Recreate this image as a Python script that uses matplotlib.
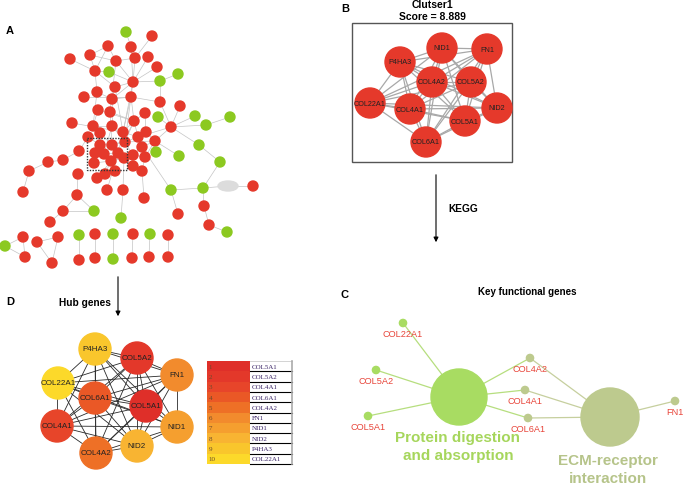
import itertools
import matplotlib.pyplot as plt
from matplotlib.patches import Circle, Ellipse, Rectangle

plt.rcParams['font.family'] = ['Liberation Sans', 'DejaVu Sans']

# ---- panel A: PPI network (layout in pixel space) ----
a_nodes = [
    (126, 33, 'g'), (152, 37, 'r'), (108, 47, 'r'), (131, 48, 'r'), (90, 56, 'r'),
    (70, 60, 'r'), (116, 62, 'r'), (135, 59, 'r'), (148, 58, 'r'), (157, 68, 'r'),
    (95, 72, 'r'), (109, 73, 'g'), (178, 75, 'g'), (160, 82, 'g'), (133, 83, 'r'),
    (115, 88, 'r'), (97, 93, 'r'), (84, 98, 'r'), (112, 100, 'r'), (131, 98, 'r'),
    (160, 103, 'r'), (180, 107, 'r'), (98, 111, 'r'), (110, 113, 'r'), (145, 114, 'r'),
    (195, 117, 'g'), (230, 118, 'g'), (158, 118, 'g'), (72, 124, 'r'), (134, 122, 'r'),
    (171, 128, 'r'), (206, 126, 'g'), (93, 127, 'r'), (112, 127, 'r'), (123, 133, 'r'),
    (100, 134, 'r'), (88, 138, 'r'), (138, 138, 'r'), (146, 133, 'r'), (100, 146, 'r'),
    (112, 146, 'r'), (125, 143, 'r'), (155, 142, 'r'), (142, 148, 'r'), (199, 146, 'g'),
    (79, 152, 'r'), (95, 154, 'r'), (104, 155, 'r'), (118, 154, 'r'), (133, 156, 'r'),
    (145, 158, 'r'), (156, 153, 'g'), (179, 157, 'g'), (63, 161, 'r'), (48, 163, 'r'),
    (94, 164, 'r'), (111, 162, 'r'), (124, 159, 'r'), (133, 167, 'r'), (115, 172, 'r'),
    (142, 172, 'r'), (220, 163, 'g'), (29, 172, 'r'), (78, 175, 'r'), (105, 175, 'r'),
    (97, 179, 'r'), (107, 191, 'r'), (123, 191, 'r'), (171, 191, 'g'), (203, 189, 'g'),
    (228, 187, 'x'), (253, 187, 'r'), (23, 193, 'r'), (77, 196, 'r'), (144, 199, 'r'),
    (204, 207, 'r'), (63, 212, 'r'), (94, 212, 'g'), (178, 215, 'r'), (121, 219, 'g'),
    (50, 223, 'r'), (209, 226, 'r'), (227, 233, 'g'), (5, 247, 'g'), (23, 238, 'r'),
    (25, 258, 'r'), (37, 243, 'r'), (58, 238, 'r'), (52, 264, 'r'), (79, 236, 'g'),
    (79, 261, 'r'), (95, 235, 'r'), (95, 259, 'r'), (113, 235, 'g'), (113, 260, 'g'),
    (133, 235, 'r'), (132, 259, 'r'), (150, 235, 'g'), (149, 258, 'r'), (168, 236, 'r'),
    (168, 258, 'r'),
]
a_edges = [
    (0, 3), (1, 7), (2, 4), (2, 6), (2, 10), (4, 6), (4, 10), (5, 10), (6, 7), (6, 14),
    (3, 7), (7, 14), (8, 14), (9, 14), (10, 11), (10, 16), (10, 15), (11, 14), (12, 13),
    (13, 14), (13, 20), (14, 15), (14, 19), (14, 18), (15, 18), (16, 18), (17, 19),
    (18, 19), (19, 20), (19, 29), (20, 30), (21, 30), (25, 30), (26, 31), (31, 30),
    (27, 30), (24, 29), (22, 29), (23, 29), (28, 34), (29, 34), (29, 37), (30, 37),
    (30, 42), (30, 44), (44, 61), (61, 69), (69, 70), (70, 71), (68, 69), (68, 43),
    (68, 78), (69, 75), (75, 81), (81, 82), (42, 52), (38, 37), (32, 33), (33, 34),
    (35, 36), (34, 37), (39, 41), (40, 41), (41, 37), (41, 42), (43, 42), (36, 45),
    (45, 53), (53, 54), (54, 62), (62, 72), (46, 47), (47, 48), (48, 49), (49, 50),
    (55, 56), (56, 57), (57, 58), (59, 56), (60, 50), (60, 74), (64, 56), (65, 48),
    (66, 48), (67, 57), (67, 79), (63, 73), (73, 76), (76, 77), (73, 77), (76, 80),
    (23, 40), (22, 32), (18, 33), (19, 34), (16, 32), (6, 23), (3, 14), (15, 34),
    (24, 38), (34, 41), (35, 40), (39, 46), (40, 48), (41, 49), (37, 43), (38, 42),
    (29, 41), (29, 48), (19, 41), (14, 34), (33, 47), (32, 39), (36, 39), (37, 50),
    (43, 49), (42, 50), (57, 49), (47, 56), (46, 55), (40, 47), (34, 48), (33, 41),
    (83, 84), (83, 85), (84, 85), (86, 87), (86, 88), (87, 88), (89, 90), (91, 92),
    (93, 94), (95, 96), (97, 98), (99, 100),
]
a_colors = {'r': '#e5392b', 'g': '#8cc920', 'x': '#dcdcdc'}

# ---- panel B: cluster 1 ----
b_title = 'Clutser1'
b_score = 8.889
b_genes = ['NID1', 'FN1', 'P4HA3', 'COL4A2', 'COL5A2', 'COL22A1', 'COL4A1',
           'NID2', 'COL5A1', 'COL6A1']
b_pos = [(442, 49), (487, 50), (400, 63), (432, 83), (471, 83), (370, 104),
         (410, 110), (497, 109), (465, 122), (426, 143)]

# ---- panel C: KEGG enrichment ----
c_terms = ['Protein digestion\nand absorption', 'ECM-receptor\ninteraction']
c_term_pos = [(459, 398), (610, 418)]
c_genes = ['COL22A1', 'COL5A2', 'COL5A1', 'COL4A2', 'COL4A1', 'COL6A1', 'FN1']
c_gene_pos = [(403, 324), (376, 371), (368, 417), (530, 359), (525, 391),
              (528, 419), (675, 402)]
c_links = {0: ['COL22A1', 'COL5A2', 'COL5A1', 'COL4A2', 'COL4A1', 'COL6A1'],
           1: ['COL4A2', 'COL4A1', 'COL6A1', 'FN1']}

# ---- panel D: hub genes ranked ----
hub_rank = ['COL5A1', 'COL5A2', 'COL4A1', 'COL6A1', 'COL4A2', 'FN1', 'NID1',
            'NID2', 'P4HA3', 'COL22A1']
hub_colors = ['#df2f29', '#e3382a', '#e7452a', '#ea5826', '#ee7026', '#f28b2d',
              '#f59f2f', '#f8b432', '#f9c62c', '#fcd92a']
d_pos = {'P4HA3': (95, 350), 'COL5A2': (137, 359), 'FN1': (177, 376),
         'COL22A1': (58, 384), 'COL6A1': (95, 399), 'COL5A1': (146, 407),
         'COL4A1': (57, 427), 'NID1': (177, 428), 'NID2': (137, 447),
         'COL4A2': (96, 454)}

fig = plt.figure(figsize=(6.85, 4.85), dpi=100)
ax = fig.add_axes([0, 0, 1, 1])
ax.set_xlim(0, 685)
ax.set_ylim(485, 0)
ax.axis('off')

# A
for i, j in a_edges:
    ax.plot([a_nodes[i][0], a_nodes[j][0]], [a_nodes[i][1], a_nodes[j][1]],
            color='#c4c4c4', lw=0.5, zorder=1)
for x, y, k in a_nodes:
    if k == 'x':
        ax.add_patch(Ellipse((x, y), 20, 10, color=a_colors[k], zorder=2))
    else:
        ax.add_patch(Circle((x, y), 5, color=a_colors[k], zorder=2))
ax.add_patch(Rectangle((87, 139), 40, 32, fill=False, ls=(0, (1, 1)),
                       ec='#333333', lw=1, zorder=3))
ax.text(6, 31, 'A', fontsize=8, fontweight='bold', va='center')

# A -> D arrow
ax.annotate('', xy=(118, 320), xytext=(118, 275),
            arrowprops=dict(arrowstyle='-|>', color='black', lw=0.8,
                            mutation_scale=7))
ax.text(111, 303, 'Hub genes', fontsize=7.3, fontweight='bold', ha='right', va='center')

# B
ax.text(341, 9, 'B', fontsize=8, fontweight='bold', va='center')
ax.text(432, 5, b_title, fontsize=7.5, fontweight='bold', ha='center', va='center')
ax.text(432, 17, f'Score = {b_score}', fontsize=7.5, fontweight='bold',
        ha='center', va='center')
ax.add_patch(Rectangle((352, 24), 160, 139, fill=False, ec='#555555', lw=1))
for i, j in itertools.combinations(range(len(b_genes)), 2):
    ax.plot([b_pos[i][0], b_pos[j][0]], [b_pos[i][1], b_pos[j][1]],
            color='#a8a8a8', lw=0.9, zorder=1)
for g, (x, y) in zip(b_genes, b_pos):
    ax.add_patch(Circle((x, y), 15, color='#e5392b', zorder=2))
    ax.text(x, y, g, fontsize=5.2, ha='center', va='center', color='#222222', zorder=3)

# B -> C arrow
ax.annotate('', xy=(436, 246), xytext=(436, 173),
            arrowprops=dict(arrowstyle='-|>', color='black', lw=0.8,
                            mutation_scale=7))
ax.text(448, 209, 'KEGG', fontsize=7.3, fontweight='bold', va='center')

# C
ax.text(341, 295, 'C', fontsize=8, fontweight='bold', va='center')
ax.text(527, 292, 'Key functional genes', fontsize=7, fontweight='bold',
        ha='center', va='center')
term_fill = ['#a8dc62', '#bdca8e']
term_line = ['#b6de7e', '#c6cf9e']
term_text = ['#a6d65c', '#b6c48a']
term_r = [28, 29]
gene_idx = {g: k for k, g in enumerate(c_genes)}
for t, genes in c_links.items():
    tx, ty = c_term_pos[t]
    for g in genes:
        gx, gy = c_gene_pos[gene_idx[g]]
        ax.plot([tx, gx], [ty, gy], color=term_line[t], lw=0.9, zorder=1)
for t, (tx, ty) in enumerate(c_term_pos):
    ax.add_patch(Circle((tx, ty), term_r[t], color=term_fill[t], zorder=2))
ax.text(458, 447, c_terms[0], fontsize=11, fontweight='bold', ha='center',
        va='center', color=term_text[0], linespacing=1.4, zorder=4)
ax.text(608, 470, c_terms[1], fontsize=11, fontweight='bold', ha='center',
        va='center', color=term_text[1], linespacing=1.4, zorder=4)
for g, (x, y) in zip(c_genes, c_gene_pos):
    col = term_fill[1] if g in c_links[1] else term_fill[0]
    ax.add_patch(Circle((x, y), 3.6, color=col, zorder=2))
    ax.text(x, y + 10.5, g, fontsize=6.6, ha='center', va='center',
            color='#e8453a', zorder=3)

# D
ax.text(6, 302, 'D', fontsize=8, fontweight='bold', va='center')
for a, b in itertools.combinations(hub_rank, 2):
    ax.plot([d_pos[a][0], d_pos[b][0]], [d_pos[a][1], d_pos[b][1]],
            color='#2a2a2a', lw=0.6, zorder=1)
for g, c in zip(hub_rank, hub_colors):
    x, y = d_pos[g]
    ax.add_patch(Circle((x, y), 16, color=c, zorder=2))
    ax.text(x, y, g, fontsize=5.8, ha='center', va='center', color='#222222', zorder=3)

# rank table
tx0, tx1, tx2 = 207, 250, 292
ty0, rh = 362, 10.3
for k, (g, c) in enumerate(zip(hub_rank, hub_colors)):
    y = ty0 + k * rh
    ax.add_patch(Rectangle((tx0, y), tx1 - tx0, rh, color=c, lw=0))
    ax.plot([tx1, tx2], [y + rh, y + rh], color='black', lw=0.8)
    ax.text(tx0 + 1.5, y + rh / 2, str(k + 1), fontsize=5, va='center',
            color='#6b4a2a', family='Liberation Serif')
    ax.text(tx1 + 1.5, y + rh / 2, g, fontsize=5, va='center',
            color='#3a2466', family='Liberation Serif')
ax.plot([tx1, tx2], [ty0, ty0], color='#cccccc', lw=0.6)
ax.plot([tx2, tx2], [ty0, ty0 + 10 * rh], color='#aaaaaa', lw=1.2)

fig.savefig('out.png', dpi=100)
